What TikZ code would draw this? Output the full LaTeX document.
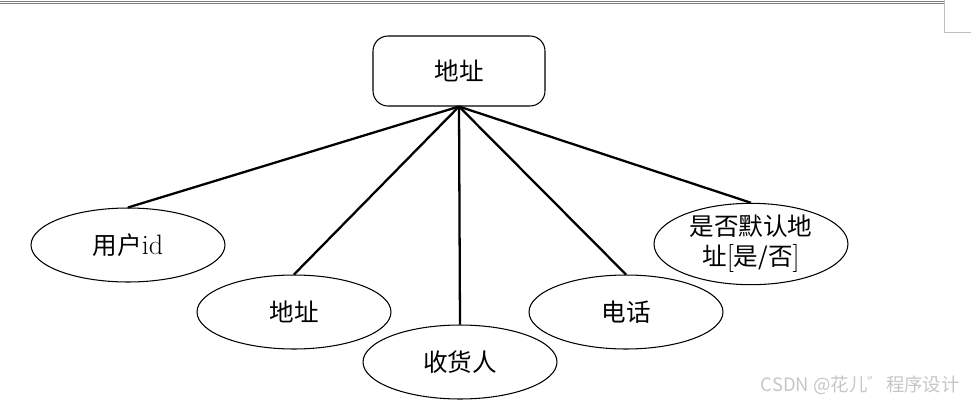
\documentclass[tikz,border=0pt]{standalone}
\usepackage{fontspec}
\newfontfamily\cjk{Noto Sans CJK SC}
\usetikzlibrary{shapes.geometric}

\newcommand*{\pw}{971}
\newcommand*{\ph}{403}
\newcommand*{\lat}[1]{{\rmfamily\fontsize{16}{17}\selectfont #1}}

\begin{document}
\begin{tikzpicture}
[
	x=0.02cm, y=-0.02cm,
	entity/.style={draw, rounded corners=0.3cm, line width=0.6pt, minimum width=3.44cm, minimum height=1.4cm, font=\cjk\fontsize{14}{17}\selectfont},
	attr/.style={ellipse, draw, line width=0.6pt, minimum width=3.88cm, minimum height=1.48cm, inner sep=0pt, align=center, font=\cjk\fontsize{14}{17}\selectfont},
	link/.style={line width=1.3pt}
]
	\useasboundingbox (0,0) rectangle (\pw,\ph);

	% page edge
	\draw[gray, line width=0.5pt] (0,1) -- (944,1);
	\draw[gray, line width=0.5pt] (0,3) -- (944,3);
	\draw[gray!50, line width=0.5pt] (944,0) -- (944,32) -- (\pw,32);

	% entity
	\node[entity] at (459,71) (addr) {地址};

	% attributes
	\node[attr] at (128,245) (uid) {用户\lat{id}};
	\node[attr] at (294,312) (place) {地址};
	\node[attr] at (460,362) (recv) {收货人};
	\node[attr] at (626,312) (tel) {电话};
	\node[attr] at (751,244) (dflt) {是否默认地\\址\lat{[}是/否\lat{]}};

	% links
	\foreach \a in {uid,place,recv,tel,dflt}
		\draw[link] (addr.south) -- (\a.north);

	\node[gray!45, anchor=east, font=\cjk\fontsize{10.5}{13}\selectfont] at (966,385) (mark) {CSDN @花儿゛程序设计};

\end{tikzpicture}
\end{document}
